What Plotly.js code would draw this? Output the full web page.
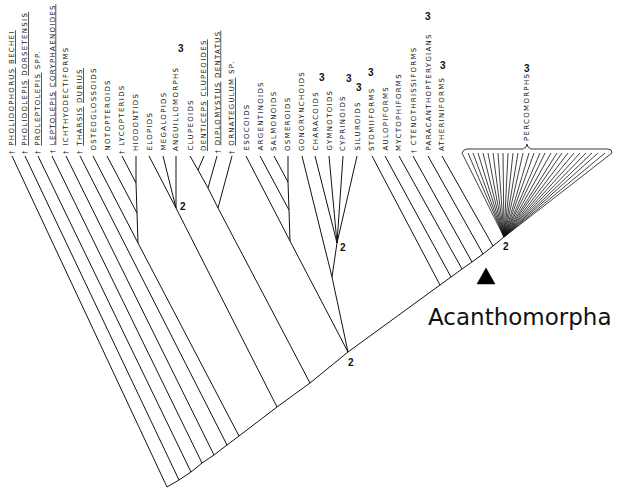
<!DOCTYPE html>
<html><head><meta charset="utf-8">
<script src="https://cdn.plot.ly/plotly-3.0.1.min.js"></script>
<style>html,body{margin:0;padding:0;background:#fff}#chart{width:617px;height:488px}</style>
</head><body><div id="chart"></div>
<script>
// ---- taxa (tips), left to right ----
const taxa = ["PHOLIDOPHORUS BECHEI","PHOLIDOLEPIS DORSETENSIS","PROLEPTOLEPIS SPP.","LEPTOLEPIS CORYPHAENOIDES",
  "ICHTHYODECTIFORMS","THARSIS DUBIUS","OSTEOGLOSSOIDS","NOTOPTEROIDS","LYCOPTERIDS","HIODONTIDS","ELOPIDS",
  "MEGALOPIDS","ANGUILLOMORPHS","CLUPEOIDS","DENTICEPS CLUPEOIDES","DIPLOMYSTUS DENTATUS","ORNATEGULUM SP.",
  "ESOCOIDS","ARGENTINOIDS","SALMONOIDS","OSMEROIDS","GONORYNCHOIDS","CHARACOIDS","GYMNOTOIDS","CYPRINOIDS",
  "SILUROIDS","STOMIIFORMS","AULOPIFORMS","MYCTOPHIFORMS","CTENOTHRISSIFORMS","PARACANTHOPTERYGIANS","ATHERINIFORMS"];
// fossil taxa carry a dagger
const fossil = [1,1,1,1,1,1,0,0,1,0,0,0,0,0,0,1,1,0,0,0,0,0,0,0,0,0,0,0,0,1,0,0];
// underlined (genus / species) words
const underlinedWords = ["PHOLIDOPHORUS","BECHEI","PHOLIDOLEPIS","DORSETENSIS","PROLEPTOLEPIS","LEPTOLEPIS",
  "CORYPHAENOIDES","THARSIS","DUBIUS","DENTICEPS","CLUPEOIDES","DIPLOMYSTUS","DENTATUS","ORNATEGULUM"];
// taxa marked "3"
const threeTaxa = ["ANGUILLOMORPHS","CHARACOIDS","CYPRINOIDS","SILUROIDS","STOMIIFORMS","PARACANTHOPTERYGIANS","ATHERINIFORMS","PERCOMORPHS"];
const threeX = [181,322,349,359,371,428,443,527];
const threeY = [48,77,78,87,72,16,65,68];

// tip positions
const tipX = [12,25,38,52,66,80,93,107,122,136,149,163,176,190,204,217,232,246,260,274,288,302,315,329,343,357,372,385,399,413,428,442];
const tipY = 156;
// percomorph fan tips
const percoTipX = [462,468,473,478,483,488,493,498,503,508,513,518,523,529,534,540,545,551,557,562,568,574,580,586,592,598,605,612];
const percoTipY = 153;

// internal nodes
const nodeId = ["B0","B1","B2","B3","B4","B5","B6","B7","B8","B9","B10","B11","B12","B13","B14","B15","B16",
  "O1","O2","O3","E1","C1","C2","C3","U1","U2","U3","G1","G2"];
const nodeX = [167,179,191,202,214,227,239,277,310,348,440,451,462,472,483,493,504,
  138,137,136,176,198,208,218,290,289,288,332,337];
const nodeY = [487,480,472,463,455,445,436,407,383,352,285,277,269,262,254,246,237,
  243,213,183,208,170,188,208,241,210,182,277,243];

// edges (from, to)
const edgeFrom = ["B0","B1","B2","B3","B4","B5","B6","B7","B8","B9","B10","B11","B12","B13","B14","B15",
  "t0","t1","t2","t3","t4","t5",
  "O1","t6","t7","t8","t9","O3","O2",
  "t10","t11","t12","E1",
  "t13","C1","C2","C3","t14","t15","t16",
  "t17","t18","t19","t20","U3","U2","U1",
  "t21","t22","t23","t24","t25","G2","G1",
  "t26","t27","t28","t29","t30","t31"];
const edgeTo = ["B1","B2","B3","B4","B5","B6","B7","B8","B9","B10","B11","B12","B13","B14","B15","B16",
  "B0","B1","B2","B3","B4","B5",
  "B6","O1","O2","O3","O3","O2","O1",
  "E1","E1","E1","B7",
  "C1","C2","C3","B8","C1","C2","C3",
  "U1","U2","U3","U3","U2","U1","B9",
  "G1","G2","G2","G2","G2","G1","B9",
  "B10","B11","B12","B13","B14","B15"];

// node labels "2"
const twoNodes = ["E1","G2","B9","B16"];

// ---- build ----
const pos = {};
tipX.forEach((x,i)=>{pos["t"+i]=[x,tipY];});
nodeId.forEach((id,i)=>{pos[id]=[nodeX[i],nodeY[i]];});

const lx=[], ly=[];
edgeFrom.forEach((f,i)=>{const a=pos[f], b=pos[edgeTo[i]]; lx.push(a[0],b[0],null); ly.push(a[1],b[1],null);});
const fx=[], fy=[];
percoTipX.forEach(x=>{const b=pos["B16"]; fx.push(x,b[0],null); fy.push(percoTipY,b[1],null);});

const traces = [
  {x:lx,y:ly,mode:'lines',line:{color:'#111',width:1},hoverinfo:'skip',type:'scatter'},
  {x:fx,y:fy,mode:'lines',line:{color:'#111',width:0.8},hoverinfo:'skip',type:'scatter'},
  // brace over percomorphs
  {x:[462,464,467,523,526,527,528,531,608,611,612],y:[153,150,149,149,147,144,147,149,149,150,153],
   mode:'lines',line:{color:'#222',width:0.9},hoverinfo:'skip',type:'scatter'},
  // Acanthomorpha triangle
  {x:[477,495,486,477],y:[284,284,268,284],mode:'lines',fill:'toself',fillcolor:'#000',line:{color:'#000',width:0.5},hoverinfo:'skip',type:'scatter'}
];

const TXT = '#111';
function markup(name){
  return name.split(' ').map(w=>underlinedWords.includes(w)?'<span style="text-decoration:underline;fill:'+TXT+'">'+w+'</span>':w).join(' ');
}
const LS = 'letter-spacing:1.3px';
const annotations = [];
taxa.forEach((t,i)=>{
  annotations.push({x:tipX[i],y:fossil[i]?155:152,xref:'x',yref:'y',xanchor:'center',yanchor:'bottom',
    textangle:-90,showarrow:false,borderpad:0,
    text:'<span style="'+LS+'">'+(fossil[i]?'† ':'')+markup(t)+'</span>',
    font:{family:'DejaVu Sans',size:7,color:TXT}});
});
annotations.push({x:527,y:142,xref:'x',yref:'y',xanchor:'center',yanchor:'bottom',textangle:-90,showarrow:false,borderpad:0,
  text:'<span style="'+LS+'">PERCOMORPHS</span>',font:{family:'DejaVu Sans',size:7,color:TXT}});
threeTaxa.forEach((t,i)=>{
  annotations.push({x:threeX[i],y:threeY[i],xref:'x',yref:'y',showarrow:false,borderpad:0,text:'<b>3</b>',
    font:{family:'Liberation Sans',size:10,color:'#111'}});
});
const twoOff = {E1:[7,-2],G2:[6,4],B9:[3,10],B16:[2,9]};
twoNodes.forEach(n=>{
  annotations.push({x:pos[n][0]+twoOff[n][0],y:pos[n][1]+twoOff[n][1],xref:'x',yref:'y',showarrow:false,borderpad:0,
    text:'<b>2</b>',font:{family:'Liberation Sans',size:10,color:'#111'}});
});
annotations.push({x:427,y:317,xref:'x',yref:'y',xanchor:'left',yanchor:'middle',showarrow:false,borderpad:0,
  text:'Acanthomorpha',font:{family:'DejaVu Sans',size:23,color:'#111'}});

const layout = {
  width:617,height:488,margin:{l:0,r:0,t:0,b:0},paper_bgcolor:'#fff',plot_bgcolor:'#fff',showlegend:false,
  xaxis:{range:[0,617],visible:false,fixedrange:true},
  yaxis:{range:[488,0],visible:false,fixedrange:true},
  annotations:annotations
};
Plotly.newPlot('chart',traces,layout,{displayModeBar:false,staticPlot:true});
</script></body></html>
